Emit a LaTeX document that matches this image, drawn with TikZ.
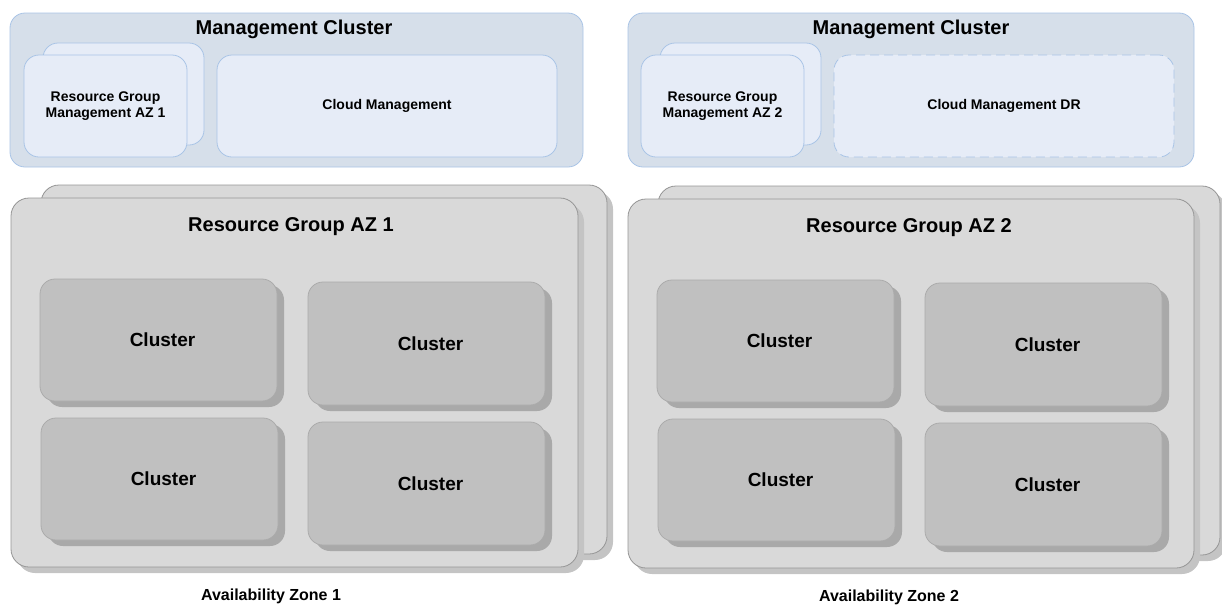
\documentclass[tikz,border=0pt]{standalone}
\usepackage{fontspec}
\setmainfont{Liberation Sans}
\usetikzlibrary{shadows}
\definecolor{mgfill}{HTML}{D6DFEA}
\definecolor{mgline}{HTML}{A9C4E6}
\definecolor{infill}{HTML}{E6ECF7}
\definecolor{rgfill}{HTML}{D9D9D9}
\definecolor{rgline}{HTML}{959595}
\definecolor{rgshadow}{HTML}{C4C4C4}
\definecolor{clfill}{HTML}{C0C0C0}
\definecolor{clline}{HTML}{ABABAB}
\definecolor{clshadow}{HTML}{A9A9A9}
\newcommand{\cltext}{\hspace*{8pt}Cluster}
\tikzset{
  box/.style={rectangle, inner sep=0pt, outer sep=0pt, anchor=north west, line width=0.8pt},
  mgbox/.style={box, draw=mgline, fill=mgfill, rounded corners=15pt},
  inbox/.style={box, draw=mgline, fill=infill, rounded corners=15pt, font=\bfseries\fontsize{14}{16}\selectfont, align=center},
  dashbox/.style={inbox, dash pattern=on 9pt off 5pt},
  rgbox/.style={box, draw=rgline, fill=rgfill, rounded corners=18pt,
    drop shadow={shadow xshift=6pt, shadow yshift=-6pt, fill=rgshadow, opacity=1}},
  clbox/.style={box, draw=clline, fill=clfill, rounded corners=15pt,
    drop shadow={shadow xshift=7pt, shadow yshift=-6pt, fill=clshadow, opacity=1},
    font=\bfseries\fontsize{19}{22}\selectfont},
  title/.style={inner sep=0pt, font=\bfseries\fontsize{20}{24}\selectfont},
  zone/.style={inner sep=0pt, font=\bfseries\fontsize{16}{19}\selectfont},
}
\begin{document}
\begin{tikzpicture}[x=1pt, y=-1pt]
\useasboundingbox (0,0) rectangle (1222,606);
% ---------- Management cluster 1 ----------
\node[mgbox, minimum width=573pt, minimum height=154pt] (mg1) at (10,13) {};
\node[title] (mg1t) at (294,29) {Management Cluster};
\node[inbox, minimum width=161pt, minimum height=102pt] (rgm1b) at (43,43) {};
\node[inbox, minimum width=163pt, minimum height=102pt] (rgm1) at (24,55) {Resource Group\\Management AZ 1};
\node[inbox, minimum width=340pt, minimum height=102pt] (cm1) at (217,55) {Cloud Management};
% ---------- Management cluster 2 ----------
\node[mgbox, minimum width=566pt, minimum height=154pt] (mg2) at (628,13) {};
\node[title] (mg2t) at (911,29) {Management Cluster};
\node[inbox, minimum width=161pt, minimum height=102pt] (rgm2b) at (660,43) {};
\node[inbox, minimum width=163pt, minimum height=102pt] (rgm2) at (641,55) {Resource Group\\Management AZ 2};
\node[dashbox, minimum width=340pt, minimum height=102pt] (cm2) at (834,55) {Cloud Management DR};
% ---------- Resource group AZ 1 ----------
\node[rgbox, minimum width=566pt, minimum height=369pt] (rg1b) at (41,185) {};
\node[rgbox, minimum width=567pt, minimum height=369pt] (rg1) at (11,198) {};
\node[title] (rg1t) at (291,227) {Resource Group AZ 1};
\node[clbox, minimum width=237pt, minimum height=122pt] (c11) at (40,279) {\cltext};
\node[clbox, minimum width=237pt, minimum height=123pt] (c12) at (308,282) {\cltext};
\node[clbox, minimum width=237pt, minimum height=122pt] (c13) at (41,418) {\cltext};
\node[clbox, minimum width=237pt, minimum height=123pt] (c14) at (308,422) {\cltext};
\node[zone] (z1) at (271,596) {Availability Zone 1};
% ---------- Resource group AZ 2 ----------
\node[rgbox, minimum width=562pt, minimum height=369pt] (rg2b) at (658,186) {};
\node[rgbox, minimum width=566pt, minimum height=369pt] (rg2) at (628,199) {};
\node[title] (rg2t) at (909,228) {Resource Group AZ 2};
\node[clbox, minimum width=237pt, minimum height=122pt] (c21) at (657,280) {\cltext};
\node[clbox, minimum width=237pt, minimum height=123pt] (c22) at (925,283) {\cltext};
\node[clbox, minimum width=237pt, minimum height=122pt] (c23) at (658,419) {\cltext};
\node[clbox, minimum width=237pt, minimum height=123pt] (c24) at (925,423) {\cltext};
\node[zone] (z2) at (889,597) {Availability Zone 2};
\end{tikzpicture}
\end{document}
